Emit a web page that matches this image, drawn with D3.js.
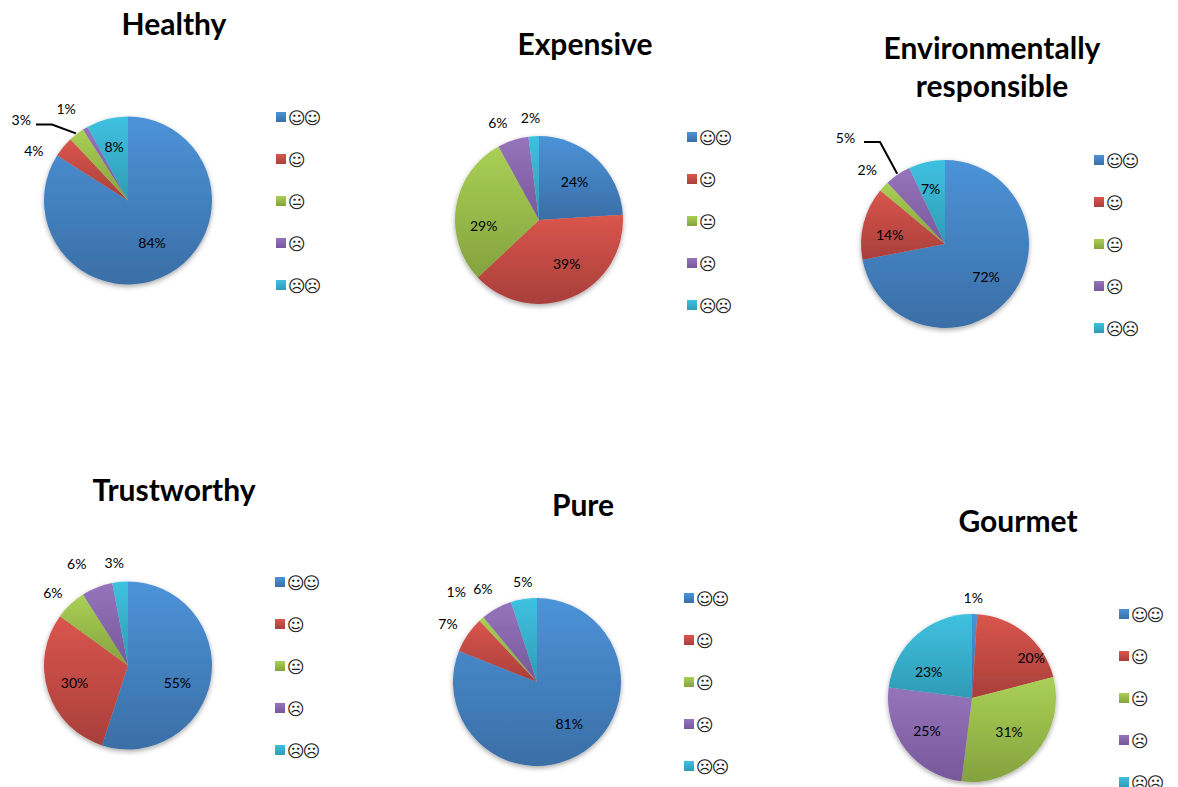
<!DOCTYPE html>
<html><head><meta charset="utf-8">
<script src="https://cdn.jsdelivr.net/npm/d3@7/dist/d3.min.js"></script>
<style>html,body{margin:0;padding:0;background:#fff;overflow:hidden}svg{display:block}</style>
</head><body><div id="chart"></div>
<script>
// ---- data ----
const categories = ["\u263A\u263A", "\u263A", "\uD83D\uDE10", "\u2639", "\u2639\u2639"];
const healthy = [84, 4, 3, 1, 8];
const expensive = [24, 39, 29, 6, 2];
const environmental = [72, 14, 2, 5, 7];
const trustworthy = [55, 30, 6, 6, 3];
const pure = [81, 7, 1, 6, 5];
const gourmet = [1, 20, 31, 25, 23];

// ---- layout ----
const W = 1178, H = 787, R = 84;
const colors = [["#4c93d8", "#3a6ea6"], ["#da554d", "#a83f3b"], ["#aad056", "#84a23e"], ["#9674bc", "#77589a"], ["#3fc1e0", "#2f9bb5"]];
const panels = [
  {title:["Healthy"], values:healthy, cx:128, cy:200.5, tx:174, ty:[35], lx:276, ly:118,
   outside:[0,1,1,1,0], nudge:[[-1,-4],[-14,16],[-43,1],[-9,-2],[-1,-4]], leader:{slice:2, from:[-92,-76], elbow:[-76,-76]}},
  {title:["Expensive"], values:expensive, cx:539, cy:220, tx:585, ty:[55], lx:687, ly:138,
   outside:[0,0,0,1,1], nudge:[[0,-1],[7,-4],[-4,14],[-9,1],[-2,1]]},
  {title:["Environmentally","responsible"], values:environmental, cx:945, cy:244, tx:992, ty:[59,97], lx:1094, ly:161,
   outside:[0,0,1,1,0], nudge:[[1,-1],[-5,3],[-2,-3],[-41,-20],[-3,-5]], leader:{slice:3, from:[-81,-102], elbow:[-65,-102]}},
  {title:["Trustworthy"], values:trustworthy, cx:128, cy:665.5, tx:174, ty:[501], lx:275, ly:583,
   outside:[0,0,1,1,1], nudge:[[-2,9],[-4,1],[-4,3],[-13,-5],[-4,1]]},
  {title:["Pure"], values:pure, cx:537, cy:682, tx:583, ty:[516], lx:684, ly:599,
   outside:[0,1,1,1,1], nudge:[[3,-2],[-3,0],[-12,-12],[-4,-2],[2,2]]},
  {title:["Gourmet"], values:gourmet, cx:972, cy:698, tx:1018, ty:[532], lx:1119, ly:615,
   outside:[1,0,0,0,0], nudge:[[-2,3],[26,0],[-2,-1],[-4,1],[-9,13]]}
];

const svg = d3.select("#chart").append("svg").attr("width", W).attr("height", H);
const defs = svg.append("defs");
colors.forEach((c, i) => {
  const g = defs.append("linearGradient").attr("id", "grad" + i).attr("x1", 0).attr("y1", 0).attr("x2", 0).attr("y2", 1);
  g.append("stop").attr("offset", "0%").attr("stop-color", c[0]);
  g.append("stop").attr("offset", "100%").attr("stop-color", c[1]);
});
const sh = defs.append("filter").attr("id", "shadow").attr("x", "-20%").attr("y", "-20%").attr("width", "140%").attr("height", "140%");
sh.append("feDropShadow").attr("dx", 0).attr("dy", 2).attr("stdDeviation", 2.5).attr("flood-color", "#000").attr("flood-opacity", 0.35);

const pie = d3.pie().sort(null).value(d => d);
const arc = d3.arc().innerRadius(0).outerRadius(R);
const polar = (a, r) => [r * Math.sin(a), -r * Math.cos(a)];
const mid = d => (d.startAngle + d.endAngle) / 2;

panels.forEach(p => {
  const arcs = pie(p.values);
  const g = svg.append("g").attr("transform", `translate(${p.cx},${p.cy})`);

  g.append("g").attr("filter", "url(#shadow)").selectAll("path").data(arcs).join("path")
    .attr("d", arc).attr("fill", (d, i) => `url(#grad${i})`);

  if (p.leader) {
    const end = polar(mid(arcs[p.leader.slice]), R + 1);
    g.append("path").attr("d", d3.line()([p.leader.from, p.leader.elbow, end]))
      .attr("fill", "none").attr("stroke", "#000").attr("stroke-width", 2);
  }

  g.selectAll("text.val").data(arcs).join("text").attr("class", "val")
    .attr("transform", (d, i) => {
      const q = polar(mid(d), p.outside[i] ? 104 : 52);
      return `translate(${q[0] + p.nudge[i][0]},${q[1] + p.nudge[i][1]})`;
    })
    .attr("text-anchor", "middle").attr("dominant-baseline", "central")
    .attr("font-family", "Lato, Carlito, sans-serif").attr("font-size", 14).attr("fill", "#000")
    .text(d => d.data + "%");

  p.title.forEach((t, i) => svg.append("text").attr("x", p.tx).attr("y", p.ty[i])
    .attr("text-anchor", "middle").attr("font-family", "Lato, Carlito, sans-serif")
    .attr("font-weight", 700).attr("font-size", 30).attr("fill", "#000").text(t));

  const leg = svg.append("g").attr("transform", `translate(${p.lx},${p.ly})`);
  const row = leg.selectAll("g").data(categories).join("g").attr("transform", (d, i) => `translate(0,${i * 42})`);
  row.append("rect").attr("x", 0).attr("y", -6).attr("width", 10).attr("height", 10).attr("fill", (d, i) => `url(#grad${i})`);
  row.append("text").attr("x", 12).attr("y", 0).attr("dominant-baseline", "central").attr("letter-spacing", -2)
    .attr("font-family", "'DejaVu Sans', sans-serif").attr("font-size", 17).attr("fill", "#222").text(d => d);
});
</script></body></html>
